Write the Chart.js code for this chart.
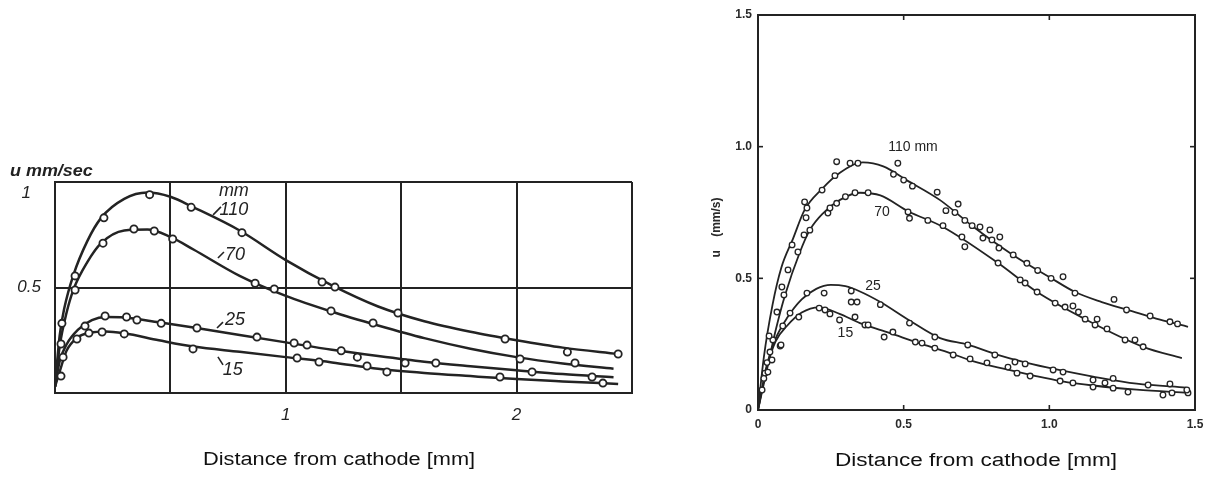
<!DOCTYPE html>
<html><head><meta charset="utf-8">
<script src="https://cdn.jsdelivr.net/npm/chart.js@4.4.1/dist/chart.umd.min.js"></script>
<style>
html,body{margin:0;padding:0;background:#fff;width:1213px;height:477px;overflow:hidden;position:relative;font-family:"Liberation Sans",Arial,sans-serif}
#c1{position:absolute;left:0;top:0}
#c2{position:absolute;left:680px;top:0}
.cap{position:absolute;font-size:18px;color:#111;white-space:nowrap;transform-origin:0 50%;line-height:20px}
#ulab{position:absolute;left:10px;top:161px;font-size:16px;font-style:italic;font-weight:bold;color:#222;white-space:nowrap;transform-origin:0 50%;line-height:20px}
</style></head><body>
<canvas id="c1" width="660" height="477"></canvas>
<canvas id="c2" width="533" height="477"></canvas>
<div class="cap" id="cap1" style="left:203px;top:449px">Distance from cathode [mm]</div>
<div class="cap" id="cap2" style="left:835px;top:450px">Distance from cathode [mm]</div>
<div id="ulab">u mm/sec</div>
<script>
// ---------- LEFT CHART DATA (x: distance mm, y: u mm/sec) ----------
const leftXTicks = [1, 2];
const leftYTicks = [0.5, 1];
const L110pts = [[0.03,0.33],[0.087,0.555],[0.212,0.83],[0.41,0.94],[0.59,0.88],[0.81,0.76],[1.157,0.526],[1.213,0.502],[1.486,0.379],[1.95,0.256],[2.22,0.194],[2.44,0.185]];
const L70pts  = [[0.026,0.232],[0.087,0.488],[0.208,0.71],[0.342,0.777],[0.43,0.768],[0.51,0.73],[0.867,0.52],[0.95,0.493],[1.196,0.389],[1.378,0.332],[2.015,0.161],[2.253,0.142]];
const L25pts  = [[0.035,0.17],[0.13,0.317],[0.217,0.365],[0.31,0.36],[0.355,0.346],[0.46,0.33],[0.615,0.308],[0.875,0.265],[1.036,0.237],[1.092,0.227],[1.24,0.2],[1.31,0.17],[1.517,0.142],[1.65,0.142],[2.067,0.1],[2.327,0.076]];
const L15pts  = [[0.026,0.08],[0.095,0.256],[0.147,0.284],[0.204,0.289],[0.30,0.28],[0.598,0.209],[1.049,0.166],[1.144,0.147],[1.352,0.128],[1.438,0.1],[1.928,0.076],[2.374,0.047]];
const L110curve = [[0,0.03],[0.02,0.27],[0.04,0.40],[0.08,0.56],[0.14,0.72],[0.2,0.83],[0.3,0.92],[0.4,0.95],[0.5,0.93],[0.6,0.88],[0.8,0.77],[1.0,0.63],[1.2,0.51],[1.4,0.41],[1.6,0.34],[1.8,0.29],[2.0,0.25],[2.2,0.215],[2.44,0.185]];
const L70curve  = [[0,0.03],[0.02,0.22],[0.05,0.38],[0.08,0.49],[0.14,0.62],[0.2,0.71],[0.3,0.77],[0.4,0.775],[0.5,0.74],[0.6,0.68],[0.8,0.555],[1.0,0.46],[1.2,0.385],[1.4,0.32],[1.6,0.26],[1.8,0.21],[2.0,0.17],[2.2,0.14],[2.42,0.115]];
const L25curve  = [[0,0.03],[0.02,0.15],[0.05,0.23],[0.1,0.30],[0.16,0.345],[0.22,0.36],[0.3,0.358],[0.45,0.335],[0.6,0.31],[0.8,0.275],[1.0,0.24],[1.2,0.205],[1.4,0.175],[1.6,0.148],[1.8,0.127],[2.0,0.108],[2.2,0.09],[2.42,0.075]];
const L15curve  = [[0,0.03],[0.02,0.1],[0.05,0.2],[0.1,0.265],[0.15,0.285],[0.22,0.292],[0.3,0.283],[0.45,0.25],[0.6,0.22],[0.8,0.195],[1.0,0.17],[1.2,0.145],[1.4,0.115],[1.6,0.095],[1.8,0.08],[2.0,0.066],[2.2,0.055],[2.44,0.043]];
const leftCurveNames = ['mm','110','70','25','15'];

// ---------- RIGHT CHART DATA (x: distance mm, y: u mm/s) ----------
const rightTicks = [0, 0.5, 1.0, 1.5];
const R110pts = [[0.02,0.12],[0.038,0.281],[0.082,0.467],[0.117,0.627],[0.16,0.79],[0.165,0.73],[0.168,0.767],[0.22,0.835],[0.264,0.89],[0.27,0.943],[0.316,0.937],[0.343,0.937],[0.465,0.895],[0.48,0.937],[0.50,0.873],[0.53,0.85],[0.615,0.827],[0.645,0.757],[0.676,0.75],[0.687,0.782],[0.71,0.72],[0.735,0.70],[0.762,0.695],[0.772,0.653],[0.796,0.684],[0.803,0.646],[0.827,0.615],[0.83,0.657],[0.876,0.589],[0.923,0.557],[0.96,0.53],[1.006,0.50],[1.047,0.506],[1.088,0.444],[1.222,0.42],[1.265,0.38],[1.346,0.357],[1.414,0.335],[1.44,0.327]];
const R70pts  = [[0.034,0.144],[0.048,0.19],[0.065,0.372],[0.089,0.437],[0.103,0.532],[0.137,0.6],[0.158,0.665],[0.178,0.683],[0.24,0.748],[0.247,0.767],[0.27,0.785],[0.30,0.81],[0.333,0.825],[0.378,0.825],[0.515,0.752],[0.52,0.728],[0.583,0.72],[0.635,0.70],[0.70,0.657],[0.71,0.62],[0.824,0.558],[0.90,0.494],[0.917,0.482],[0.958,0.448],[1.02,0.406],[1.054,0.391],[1.081,0.395],[1.10,0.372],[1.123,0.345],[1.157,0.323],[1.164,0.345],[1.198,0.308],[1.26,0.266],[1.294,0.266],[1.322,0.24]];
const R25pts  = [[0.024,0.14],[0.051,0.266],[0.085,0.319],[0.11,0.368],[0.168,0.444],[0.227,0.444],[0.32,0.452],[0.32,0.41],[0.34,0.41],[0.42,0.40],[0.52,0.33],[0.607,0.277],[0.72,0.247],[0.813,0.209],[0.882,0.182],[0.917,0.175],[1.013,0.152],[1.047,0.144],[1.15,0.114],[1.191,0.103],[1.219,0.12],[1.339,0.095],[1.414,0.099],[1.472,0.076]];
const R15pts  = [[0.014,0.076],[0.031,0.18],[0.041,0.22],[0.076,0.243],[0.079,0.247],[0.14,0.353],[0.21,0.387],[0.23,0.38],[0.247,0.365],[0.28,0.342],[0.333,0.353],[0.367,0.323],[0.378,0.323],[0.433,0.277],[0.463,0.296],[0.54,0.258],[0.563,0.254],[0.607,0.235],[0.67,0.209],[0.728,0.194],[0.786,0.179],[0.858,0.163],[0.889,0.14],[0.934,0.129],[1.037,0.11],[1.081,0.103],[1.15,0.087],[1.219,0.083],[1.27,0.068],[1.39,0.057],[1.421,0.065],[1.476,0.065]];
const R110curve = [[0,0],[0.02,0.2],[0.05,0.4],[0.08,0.54],[0.12,0.65],[0.16,0.76],[0.22,0.84],[0.28,0.9],[0.36,0.94],[0.43,0.925],[0.51,0.873],[0.625,0.797],[0.74,0.695],[0.875,0.589],[1.0,0.505],[1.09,0.447],[1.18,0.41],[1.27,0.38],[1.38,0.343],[1.476,0.316]];
const R70curve  = [[0,0],[0.03,0.15],[0.06,0.3],[0.093,0.437],[0.144,0.6],[0.178,0.684],[0.224,0.748],[0.28,0.797],[0.35,0.825],[0.42,0.815],[0.515,0.755],[0.635,0.695],[0.824,0.558],[0.958,0.448],[1.123,0.345],[1.322,0.24],[1.455,0.197]];
const R25curve  = [[0,0],[0.03,0.17],[0.06,0.27],[0.1,0.35],[0.15,0.42],[0.2,0.46],[0.25,0.475],[0.3,0.47],[0.35,0.45],[0.42,0.41],[0.52,0.34],[0.625,0.273],[0.72,0.248],[0.82,0.21],[0.92,0.18],[1.02,0.155],[1.15,0.127],[1.3,0.1],[1.47,0.085]];
const R15curve  = [[0,0],[0.03,0.16],[0.06,0.26],[0.1,0.32],[0.15,0.37],[0.21,0.39],[0.28,0.365],[0.35,0.33],[0.453,0.292],[0.55,0.255],[0.65,0.22],[0.74,0.185],[0.85,0.155],[0.95,0.13],[1.04,0.11],[1.15,0.093],[1.3,0.077],[1.476,0.065]];
const rightCurveNames = ['110 mm','70','25','15'];

// ---------- helpers ----------
const INK = '#232323';
function curveDS(d, w){ return {data:d, showLine:true, pointRadius:0, borderColor:INK, borderWidth:w, cubicInterpolationMode:'monotone', order:2}; }
function ptsDS(d, r, w){ return {data:d, showLine:false, pointRadius:r, pointHoverRadius:r, pointBackgroundColor:'#fff', pointBorderColor:INK, pointBorderWidth:w, order:1}; }

function labelPlugin(id, items, font, leaders){
  return {id, afterDatasetsDraw(chart){
    const {ctx, scales:{x,y}} = chart;
    ctx.save(); ctx.fillStyle = INK; ctx.strokeStyle = INK; ctx.lineWidth = 1.6;
    ctx.font = font; ctx.textAlign='center'; ctx.textBaseline='middle';
    items.forEach(it => ctx.fillText(it.t, x.getPixelForValue(it.x), y.getPixelForValue(it.y)));
    (leaders||[]).forEach(s => { ctx.beginPath(); ctx.moveTo(x.getPixelForValue(s[0]), y.getPixelForValue(s[1])); ctx.lineTo(x.getPixelForValue(s[2]), y.getPixelForValue(s[3])); ctx.stroke(); });
    ctx.restore();
  }};
}

// ---------- LEFT CHART ----------
const leftLabelPos = [{x:0.775,y:0.955},{x:0.775,y:0.867},{x:0.78,y:0.654},{x:0.78,y:0.346},{x:0.77,y:0.109}];
const leftLeaders = [[0.685,0.844,0.719,0.882],[0.706,0.64,0.732,0.668],[0.702,0.308,0.728,0.336],[0.706,0.171,0.728,0.133]];
const topTickLabel = {id:'topTickLabel', afterDraw(chart){
  const {ctx, scales:{y}} = chart;
  ctx.save(); ctx.fillStyle = INK; ctx.font = 'italic 17px "Liberation Sans"'; ctx.textAlign='right'; ctx.textBaseline='middle';
  ctx.fillText('1', y.right - 24, y.getPixelForValue(1) + 11);
  ctx.restore();
}};
new Chart(document.getElementById('c1'), {
  type:'scatter',
  data:{datasets:[
    curveDS(L110curve,2.5), curveDS(L70curve,2.5), curveDS(L25curve,2.5), curveDS(L15curve,2.5),
    ptsDS(L110pts,3.6,1.8), ptsDS(L70pts,3.6,1.8), ptsDS(L25pts,3.6,1.8), ptsDS(L15pts,3.6,1.8)
  ]},
  options:{
    responsive:false, animation:false, events:[],
    layout:{padding:{left:0,right:28,top:182,bottom:44}},
    plugins:{legend:{display:false}, tooltip:{enabled:false}},
    scales:{
      x:{type:'linear', min:0, max:2.5,
         afterFit(s){ s.height = 40; },
         grid:{color:INK, lineWidth:2, drawTicks:false},
         border:{color:INK, width:2},
         ticks:{stepSize:0.5, autoSkip:false, maxRotation:0, padding:12, color:INK,
                font:{family:'"Liberation Sans"', style:'italic', size:17},
                callback:v => leftXTicks.includes(v) ? String(v) : ''}},
      y:{type:'linear', min:0, max:1,
         afterFit(s){ s.width = 55; },
         grid:{color:INK, lineWidth:2, drawTicks:false},
         border:{color:INK, width:2},
         ticks:{stepSize:0.5, autoSkip:false, padding:14, color:INK,
                font:{family:'"Liberation Sans"', style:'italic', size:17},
                callback:v => (leftYTicks.includes(v) && v !== 1) ? '0.5' : ''}}
    }
  },
  plugins:[topTickLabel, labelPlugin('leftLabels', leftCurveNames.map((t,i)=>({t, ...leftLabelPos[i]})), 'italic 18px "Liberation Sans"', leftLeaders)]
});

// ---------- RIGHT CHART ----------
const rightLabelPos = [{x:0.532,y:1.0},{x:0.426,y:0.752},{x:0.395,y:0.471},{x:0.30,y:0.292}];
const boxTicks = {id:'boxTicks', afterDraw(chart){
  const {ctx, chartArea:a, scales:{x,y}} = chart;
  ctx.save(); ctx.strokeStyle = INK; ctx.lineWidth = 2;
  ctx.strokeRect(a.left, a.top, a.right-a.left, a.bottom-a.top);
  ctx.lineWidth = 1.6;
  const L = (x1,y1,x2,y2)=>{ctx.beginPath();ctx.moveTo(x1,y1);ctx.lineTo(x2,y2);ctx.stroke();};
  x.ticks.forEach(t=>{ if(t.value<=x.min||t.value>=x.max) return; const p=x.getPixelForValue(t.value); L(p,a.bottom,p,a.bottom-5); L(p,a.top,p,a.top+5); });
  y.ticks.forEach(t=>{ if(t.value<=y.min||t.value>=y.max) return; const p=y.getPixelForValue(t.value); L(a.left,p,a.left+5,p); L(a.right,p,a.right-5,p); });
  ctx.restore();
}};
const fmt = v => rightTicks.includes(v) ? (v===0 ? '0' : v.toFixed(1)) : '';
new Chart(document.getElementById('c2'), {
  type:'scatter',
  data:{datasets:[
    curveDS(R110curve,1.8), curveDS(R70curve,1.8), curveDS(R25curve,1.8), curveDS(R15curve,1.8),
    ptsDS(R110pts,2.8,1.3), ptsDS(R70pts,2.8,1.3), ptsDS(R25pts,2.8,1.3), ptsDS(R15pts,2.8,1.3)
  ]},
  options:{
    responsive:false, animation:false, events:[],
    layout:{padding:{left:0,right:18,top:15,bottom:37}},
    plugins:{legend:{display:false}, tooltip:{enabled:false}},
    scales:{
      x:{type:'linear', min:0, max:1.5,
         afterFit(s){ s.height = 30; },
         grid:{drawOnChartArea:false, drawTicks:false},
         border:{display:false},
         ticks:{stepSize:0.5, autoSkip:false, maxRotation:0, padding:7, color:'#2a2a2a',
                font:{family:'"Liberation Sans"', weight:'bold', size:12}, callback:fmt}},
      y:{type:'linear', min:0, max:1.5,
         afterFit(s){ s.width = 78; },
         grid:{drawOnChartArea:false, drawTicks:false},
         border:{display:false},
         title:{display:true, text:'u    (mm/s)\u00a0\u00a0\u00a0\u00a0\u00a0\u00a0\u00a0\u00a0\u00a0', color:'#2a2a2a', padding:{top:29,bottom:0},
                font:{family:'"Liberation Sans"', weight:'bold', size:12}},
         ticks:{stepSize:0.5, autoSkip:false, padding:6, color:'#2a2a2a',
                font:{family:'"Liberation Sans"', weight:'bold', size:12}, callback:fmt}}
    }
  },
  plugins:[boxTicks, labelPlugin('rightLabels', rightCurveNames.map((t,i)=>({t, ...rightLabelPos[i]})), '14px "Liberation Sans"')]
});

// stretch the captions to the reference width
[['cap1',272],['cap2',282],['ulab',83]].forEach(([id,w])=>{
  const el=document.getElementById(id); el.style.transform='scaleX('+(w/el.offsetWidth)+')';
});
</script>
</body></html>
